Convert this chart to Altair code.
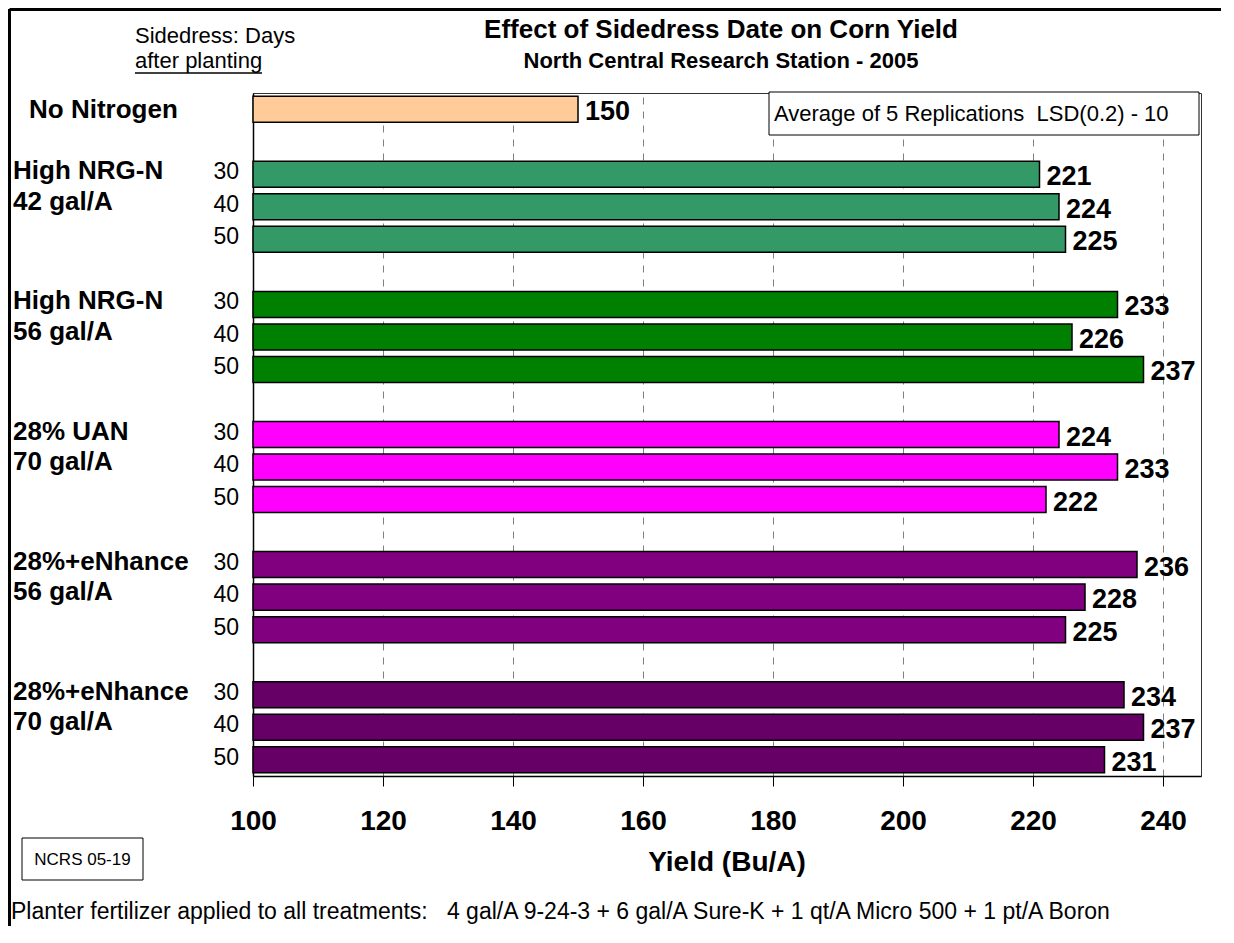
import altair as alt
import pandas as pd

FONT = "Liberation Sans"
NB = "\u00a0"

# ---- data ----
treatments = ["High NRG-N", "High NRG-N", "28% UAN", "28%+eNhance", "28%+eNhance"]
rates = ["42 gal/A", "56 gal/A", "70 gal/A", "56 gal/A", "70 gal/A"]
days = [30, 40, 50]
no_n_label = "No Nitrogen"
no_n_yield = 150
yields = [
    [221, 224, 225],
    [233, 226, 237],
    [224, 233, 222],
    [236, 228, 225],
    [234, 237, 231],
]
no_n_color = "#FFCC99"
group_colors = ["#339966", "#008000", "#FF00FF", "#800080", "#660066"]
x_ticks = [100, 120, 140, 160, 180, 200, 220, 240]

title_text = "Effect of Sidedress Date on Corn Yield"
subtitle_text = "North Central Research Station - 2005"
side1 = "Sidedress: Days"
side2 = "after planting"
lsd_text = "Average of 5 Replications" + NB + NB + "LSD(0.2) - 10"
ncrs_text = "NCRS 05-19"
x_title = "Yield (Bu/A)"
footer = ("Planter fertilizer applied to all treatments:" + NB + NB + NB + "4 gal/A 9-24-3 + "
          "6 gal/A Sure-K + 1 qt/A Micro 500 + 1 pt/A Boron")

# ---- tables ----
slots = ["nitro0"]
bars = [{"slot": "nitro0", "yield": no_n_yield, "color": no_n_color}]
day_rows, line1_rows, line2_rows = [], [], []
for g in range(len(treatments)):
    slots.append(f"gap{g}")
    for i, d in enumerate(days):
        key = f"g{g}_{d}"
        slots.append(key)
        bars.append({"slot": key, "yield": yields[g][i], "color": group_colors[g]})
        day_rows.append({"slot": key, "day": str(d)})
    line1_rows.append({"slot": f"g{g}_{days[0]}", "t": treatments[g]})
    line2_rows.append({"slot": f"g{g}_{days[1]}", "t": rates[g]})

bars_df = pd.DataFrame(bars)
bars_df["base"] = 100

W, H = 948, 683
yscale = alt.Scale(domain=slots, paddingInner=0.2, paddingOuter=0.1)
xscale = alt.Scale(domain=[100, 100 + W / 6.5], nice=False, zero=False)

Y = alt.Y("slot:N", scale=yscale,
          axis=alt.Axis(labels=False, ticks=False, title=None, grid=False,
                        domainColor="black", domainWidth=1.5))

bar_layer = alt.Chart(bars_df).mark_bar(stroke="black", strokeWidth=1.5).encode(
    x=alt.X("base:Q", scale=xscale,
            axis=alt.Axis(values=x_ticks, grid=True, gridDash=[7, 7],
                          gridColor="#808080", gridWidth=1, tickSize=10,
                          tickColor="black", domainColor="black", domainWidth=1.5,
                          labelFont=FONT, labelFontSize=28, labelFontWeight="bold",
                          labelColor="black", labelPadding=21, labelFlush=False,
                          labelOverlap=False, title=None)),
    x2="yield:Q",
    y=Y,
    fill=alt.Fill("color:N", scale=None),
)

value_layer = alt.Chart(bars_df).mark_text(
    align="left", baseline="alphabetic", dx=7, dy=11, font=FONT,
    fontSize=27, fontWeight="bold", color="black"
).encode(x=alt.X("yield:Q", scale=xscale), y=Y, text=alt.Text("yield:Q", format="d"))

day_layer = alt.Chart(pd.DataFrame(day_rows)).mark_text(
    align="right", baseline="alphabetic", dy=5, font=FONT, fontSize=23, color="black"
).encode(x=alt.value(-14), y=Y, text="day:N")

l1_layer = alt.Chart(pd.DataFrame(line1_rows)).mark_text(
    align="left", baseline="alphabetic", dy=5, font=FONT, fontSize=26,
    fontWeight="bold", color="black"
).encode(x=alt.value(-240), y=Y, text="t:N")

l2_layer = alt.Chart(pd.DataFrame(line2_rows)).mark_text(
    align="left", baseline="alphabetic", dy=3, font=FONT, fontSize=26,
    fontWeight="bold", color="black"
).encode(x=alt.value(-240), y=Y, text="t:N")

non_layer = alt.Chart(pd.DataFrame({"slot": ["nitro0"], "t": [no_n_label]})).mark_text(
    align="left", baseline="alphabetic", dy=9, font=FONT, fontSize=26,
    fontWeight="bold", color="black"
).encode(x=alt.value(-224), y=Y, text="t:N")


def note(text, x, y, size, weight="normal", align="left"):
    return alt.Chart(pd.DataFrame({"t": [text]})).mark_text(
        align=align, baseline="alphabetic", font=FONT, fontSize=size,
        fontWeight=weight, color="black"
    ).encode(x=alt.value(x), y=alt.value(y), text="t:N")


def box(x1, x2, y1, y2, width=1):
    return alt.Chart(pd.DataFrame({"t": [0]})).mark_rect(
        fill="white", stroke="black", strokeWidth=width
    ).encode(x=alt.value(x1), x2=alt.value(x2), y=alt.value(y1), y2=alt.value(y2))


def line(x1, x2, y1, y2, width):
    return alt.Chart(pd.DataFrame({"t": [0]})).mark_rule(
        color="black", strokeWidth=width
    ).encode(x=alt.value(x1), x2=alt.value(x2), y=alt.value(y1), y2=alt.value(y2))


annotations = [
    note(title_text, 468, -55, 26, "bold", "center"),
    note(subtitle_text, 468, -25, 22, "bold", "center"),
    note(side1, -118, -50, 22),
    note(side2, -118, -25, 22),
    line(-118, 9, -20, -20, 1.5),
    box(516, 946, -1, 42),
    note(lsd_text, 521, 28, 22),
    note(x_title, 474, 778, 28, "bold", "center"),
    box(-231, -110, 745, 787),
    note(ncrs_text, -170.5, 772, 17, "normal", "center"),
    note(footer, -242, 826, 23),
    line(-243.5, -243.5, -84, 920, 3),
    line(-243.5, 980, -83.5, -83.5, 3),
]

chart = alt.layer(
    bar_layer, value_layer, day_layer, l1_layer, l2_layer, non_layer, *annotations
).properties(
    width=W, height=H,
    autosize=alt.AutoSizeParams(type="none"),
    padding={"left": 245, "top": 85, "right": 20, "bottom": 150},
    background="white",
).configure_view(stroke="#333333", strokeWidth=1)

chart.save("out.html", embed_options={"renderer": "svg", "actions": False})
